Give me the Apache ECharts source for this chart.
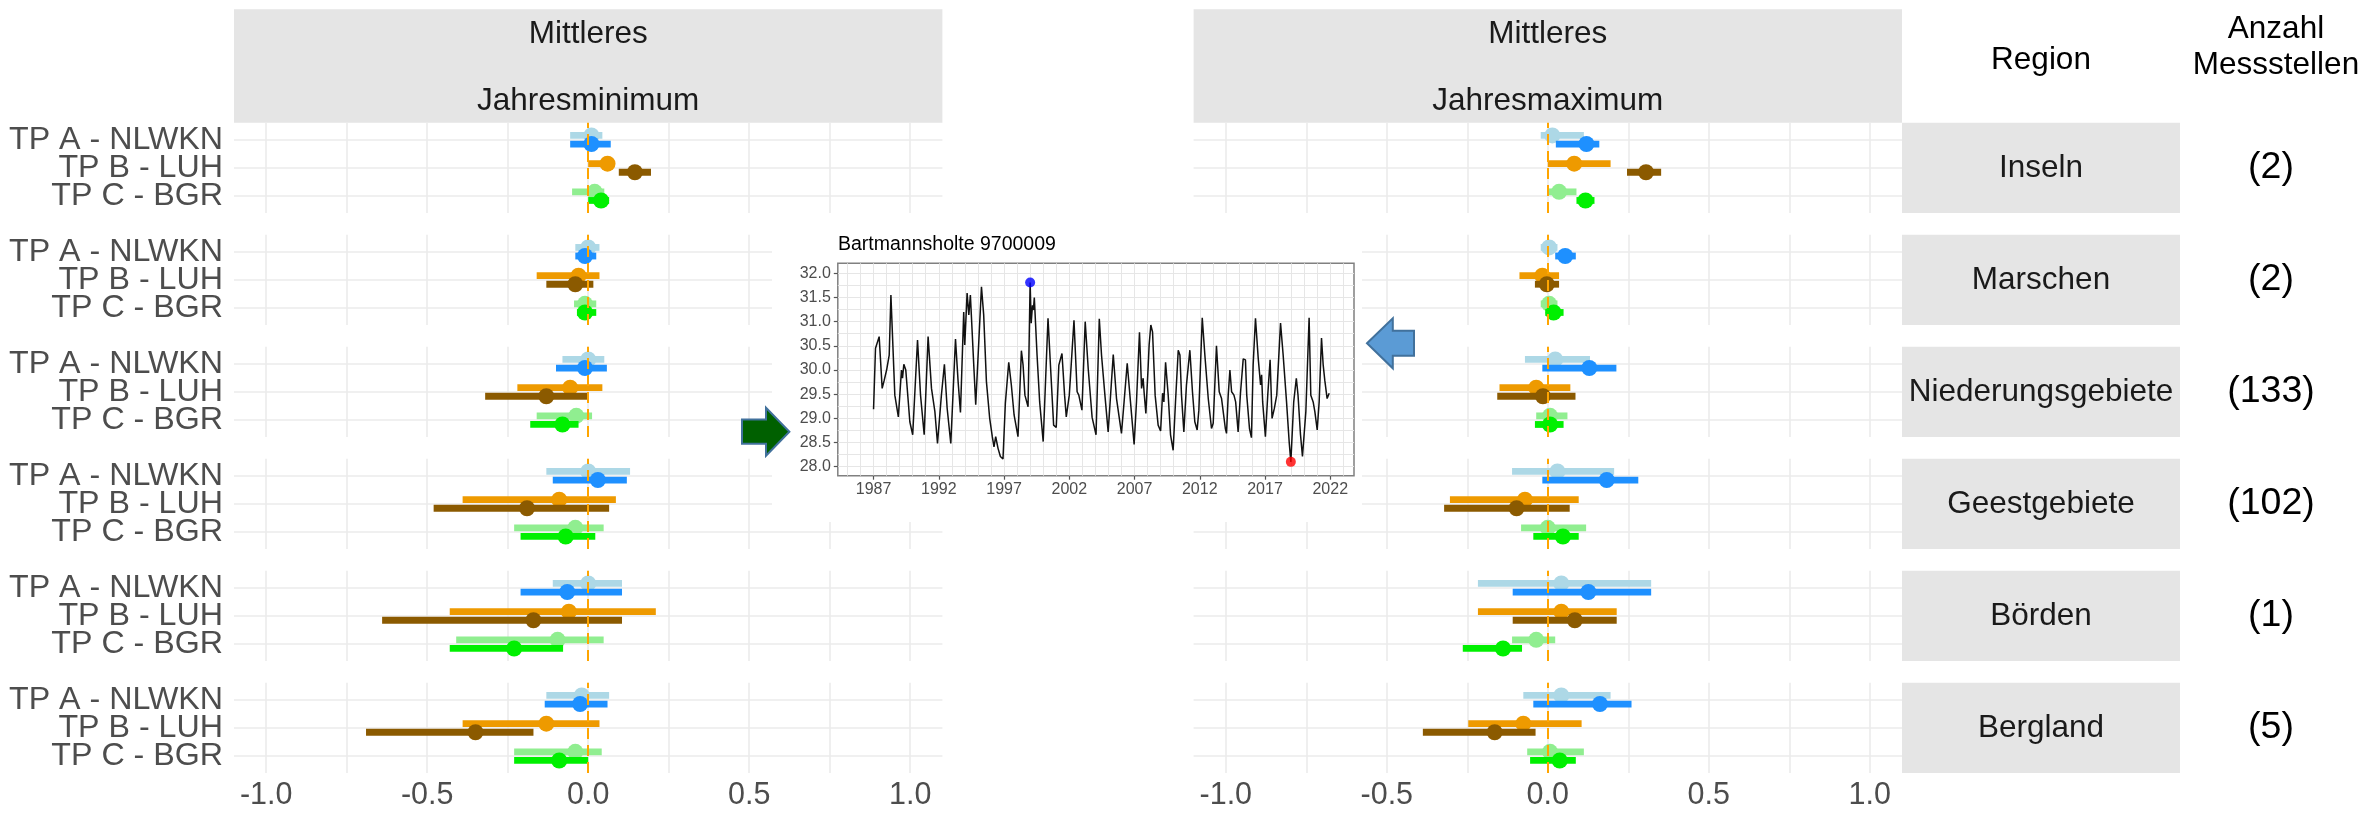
<!DOCTYPE html>
<html>
<head>
<meta charset="utf-8">
<script src="https://cdn.jsdelivr.net/npm/echarts@6/dist/echarts.min.js"></script>
<style>html,body{margin:0;padding:0;background:#fff}#c{width:2363px;height:813px}</style>
</head>
<body>
<div id="c"></div>
<script>
// ---------------- data ----------------
const regions = ['Inseln', 'Marschen', 'Niederungsgebiete', 'Geestgebiete', 'Börden', 'Bergland'];
const counts = ['(2)', '(2)', '(133)', '(102)', '(1)', '(5)'];
const tpLabels = ['TP A - NLWKN', 'TP B - LUH', 'TP C - BGR'];
const measures = ['Mittleres\n\nJahresminimum', 'Mittleres\n\nJahresmaximum'];
const xTickValues = [-1.0, -0.5, 0.0, 0.5, 1.0];
const xGridValues = [-1.0, -0.75, -0.5, -0.25, 0.0, 0.25, 0.5, 0.75, 1.0];
const yCatValues = [1, 2, 3];
const zeroLine = 0;

// Jahresminimum, light variant (rows = regions, cols = TP A, TP B, TP C)
const minLightEst = [[0.01, 0.06, 0.02], [0.00, -0.03, -0.01], [0.00, -0.056, -0.037], [0.00, -0.09, -0.04], [0.00, -0.06, -0.095], [-0.02, -0.13, -0.04]];
const minLightLo  = [[-0.056, 0.0, -0.05], [-0.04, -0.16, -0.044], [-0.08, -0.22, -0.16], [-0.13, -0.39, -0.23], [-0.11, -0.43, -0.41], [-0.13, -0.39, -0.23]];
const minLightHi  = [[0.044, 0.08, 0.05], [0.035, 0.035, 0.025], [0.05, 0.044, 0.012], [0.13, 0.086, 0.048], [0.105, 0.21, 0.048], [0.065, 0.035, 0.042]];
// Jahresminimum, dark variant
const minDarkEst = [[0.01, 0.145, 0.04], [-0.01, -0.04, -0.01], [-0.01, -0.13, -0.08], [0.03, -0.19, -0.07], [-0.065, -0.17, -0.23], [-0.025, -0.35, -0.09]];
const minDarkLo  = [[-0.056, 0.095, 0.0], [-0.04, -0.13, -0.035], [-0.10, -0.32, -0.18], [-0.11, -0.48, -0.21], [-0.21, -0.64, -0.43], [-0.135, -0.69, -0.23]];
const minDarkHi  = [[0.07, 0.195, 0.065], [0.025, 0.016, 0.025], [0.058, -0.003, -0.03], [0.12, 0.065, 0.022], [0.105, 0.105, -0.078], [0.06, -0.17, 0.0]];
// Jahresmaximum, light variant
const maxLightEst = [[0.014, 0.082, 0.035], [0.004, -0.017, 0.004], [0.023, -0.036, 0.007], [0.03, -0.071, 0.0], [0.042, 0.042, -0.036], [0.042, -0.076, 0.007]];
const maxLightLo  = [[-0.022, 0.0, 0.0], [-0.022, -0.088, -0.022], [-0.071, -0.15, -0.036], [-0.111, -0.304, -0.083], [-0.217, -0.217, -0.111], [-0.076, -0.247, -0.064]];
const maxLightHi  = [[0.112, 0.195, 0.089], [0.03, 0.035, 0.03], [0.131, 0.07, 0.061], [0.206, 0.096, 0.119], [0.321, 0.214, 0.023], [0.195, 0.105, 0.112]];
// Jahresmaximum, dark variant
const maxDarkEst = [[0.12, 0.305, 0.117], [0.054, -0.003, 0.018], [0.129, -0.015, 0.007], [0.183, -0.097, 0.047], [0.126, 0.084, -0.139], [0.162, -0.165, 0.037]];
const maxDarkLo  = [[0.025, 0.246, 0.089], [0.023, -0.04, -0.008], [-0.017, -0.157, -0.04], [-0.017, -0.322, -0.045], [-0.109, -0.109, -0.264], [-0.045, -0.388, -0.055]];
const maxDarkHi  = [[0.16, 0.352, 0.145], [0.087, 0.035, 0.049], [0.213, 0.086, 0.049], [0.281, 0.068, 0.096], [0.321, 0.214, -0.08], [0.26, -0.038, 0.087]];

// Inset: Bartmannsholte 9700009 groundwater level time series
const insetTitle = 'Bartmannsholte 9700009';
const tsYear = [1987.00,1987.15,1987.43,1987.66,1987.82,1988.00,1988.20,1988.33,1988.63,1988.90,1989.00,1989.14,1989.22,1989.32,1989.47,1989.78,1990.00,1990.37,1990.60,1990.88,1991.18,1991.44,1991.70,1991.90,1992.20,1992.43,1992.64,1992.92,1993.28,1993.48,1993.66,1993.91,1993.99,1994.17,1994.30,1994.42,1994.68,1994.83,1994.96,1995.27,1995.44,1995.65,1995.90,1996.10,1996.23,1996.36,1996.54,1996.72,1996.92,1997.10,1997.23,1997.36,1997.56,1997.77,1998.07,1998.33,1998.46,1998.60,1998.84,1999.00,1999.08,1999.18,1999.25,1999.32,1999.53,1999.73,2000.00,2000.37,2000.57,2000.80,2001.00,2001.20,2001.44,2001.64,2001.77,2002.00,2002.10,2002.36,2002.60,2002.73,2002.97,2003.22,2003.45,2003.75,2004.05,2004.30,2004.47,2004.73,2004.98,2005.37,2005.62,2006.00,2006.20,2006.44,2006.69,2006.97,2007.15,2007.38,2007.54,2007.66,2007.74,2007.87,2008.05,2008.12,2008.25,2008.38,2008.58,2008.81,2009.00,2009.15,2009.25,2009.38,2009.58,2009.76,2009.96,2010.14,2010.35,2010.48,2010.60,2010.78,2010.98,2011.24,2011.44,2011.62,2011.80,2011.93,2012.06,2012.19,2012.39,2012.65,2012.90,2013.03,2013.28,2013.49,2013.67,2013.96,2014.05,2014.18,2014.31,2014.44,2014.62,2014.75,2014.94,2015.12,2015.33,2015.50,2015.60,2015.81,2015.96,2016.09,2016.27,2016.48,2016.66,2016.74,2016.82,2017.03,2017.21,2017.39,2017.54,2017.72,2017.90,2018.19,2018.39,2018.65,2018.85,2018.98,2019.20,2019.40,2019.53,2019.72,2019.87,2020.13,2020.38,2020.51,2020.69,2020.82,2021.00,2021.15,2021.33,2021.46,2021.58,2021.76,2021.92];
const tsLevel = [29.19,30.45,30.69,29.62,29.79,30.00,30.31,31.55,29.48,29.03,28.99,30.00,29.83,30.12,30.00,28.93,28.66,30.62,29.48,28.66,30.69,29.62,29.14,28.48,29.48,30.12,29.21,28.48,30.64,29.76,29.12,31.20,30.52,31.59,31.14,31.55,30.10,29.28,29.26,31.72,31.14,29.76,29.00,28.62,28.41,28.62,28.38,28.21,28.16,29.31,29.34,30.16,29.69,29.07,28.62,30.40,30.10,29.48,29.24,31.81,30.97,31.34,31.24,31.50,30.31,29.34,28.52,31.07,30.03,28.86,28.81,30.10,30.34,29.48,29.03,29.48,29.90,31.03,29.55,29.48,29.17,31.00,30.03,29.02,28.66,31.06,30.31,29.48,28.72,30.32,29.41,28.69,29.34,30.14,29.34,28.46,29.34,30.78,29.62,29.83,29.52,29.10,30.10,30.52,30.93,30.79,29.48,28.86,28.74,29.52,29.34,30.16,29.48,28.66,28.34,29.34,30.41,30.31,29.48,28.72,29.69,30.41,29.55,28.93,28.76,29.17,29.19,31.08,30.31,29.41,28.79,28.90,30.50,29.55,29.41,28.79,28.69,29.48,30.00,29.55,29.48,29.34,28.72,29.52,30.23,30.21,29.48,28.79,28.60,30.10,31.07,30.24,29.69,29.90,29.34,28.62,29.48,30.21,29.00,29.21,29.48,30.97,30.31,29.34,28.52,28.10,29.34,29.83,29.48,28.66,28.21,29.14,31.08,29.48,29.34,29.14,28.76,29.34,30.66,30.10,29.79,29.41,29.52];
const tsMaxPoint = [1999.00, 31.81];
const tsMinPoint = [2018.98, 28.10];
const meanAnnualMax = 30.64;
const meanAnnualMin = 28.63;
const tsXTicks = [1987, 1992, 1997, 2002, 2007, 2012, 2017, 2022];
const tsYTicks = [28.0, 28.5, 29.0, 29.5, 30.0, 30.5, 31.0, 31.5, 32.0];
const tsGridYears = [1985,1986,1987,1988,1989,1990,1991,1992,1993,1994,1995,1996,1997,1998,1999,2000,2001,2002,2003,2004,2005,2006,2007,2008,2009,2010,2011,2012,2013,2014,2015,2016,2017,2018,2019,2020,2021,2022,2023];
const tsGridLevels = [28.0,28.25,28.5,28.75,29.0,29.25,29.5,29.75,30.0,30.25,30.5,30.75,31.0,31.25,31.5,31.75,32.0];

// ---------------- styling / layout ----------------
const FONT = "'Liberation Sans', Arial, Helvetica, sans-serif";
const lightColors = ['#ADD8E6', '#EE9A00', '#90EE90'];
const darkColors = ['#1E90FF', '#8B5A00', '#00F000'];
const colX = [234, 1193.6];
const colW = 708.4;
const rowTop0 = 122.8, rowStep = 112, rowH = 90.3;
const GRID_COL = '#EBEBEB';

const dataSets = [
  [[minLightEst, minLightLo, minLightHi], [minDarkEst, minDarkLo, minDarkHi]],
  [[maxLightEst, maxLightLo, maxLightHi], [maxDarkEst, maxDarkLo, maxDarkHi]]
];

function makeRender(variant) {
  const off = variant === 0 ? -4.3 : 4.3;
  const cols = variant === 0 ? lightColors : darkColors;
  return function (params, api) {
    const y = api.value(3);
    const pLo = api.coord([api.value(1), y]);
    const pHi = api.coord([api.value(2), y]);
    const pE = api.coord([api.value(0), y]);
    const col = cols[api.value(4)];
    const cy = pE[1] + off;
    return {
      type: 'group',
      children: [
        { type: 'rect', shape: { x: pLo[0], y: cy - 3.4, width: Math.max(pHi[0] - pLo[0], 0), height: 6.8 }, style: { fill: col } },
        { type: 'circle', shape: { cx: pE[0], cy: cy, r: 8 }, style: { fill: col } }
      ]
    };
  };
}

function labelAxis(gi, values) {
  return {
    gridIndex: gi, type: 'value', position: 'left', offset: 0, min: 0.4, max: 3.6,
    axisLine: { show: false }, axisTick: { show: false, customValues: values }, splitLine: { show: false },
    axisLabel: {
      customValues: values, showMinLabel: true, showMaxLabel: true, hideOverlap: false,
      formatter: v => tpLabels[3 - Math.round(v)],
      fontSize: 32.2, color: '#4D4D4D', fontFamily: FONT, margin: 11
    }
  };
}

const grids = [], xAxes = [], yAxes = [], series = [];
for (let r = 0; r < regions.length; r++) {
  for (let c = 0; c < 2; c++) {
    const gi = grids.length;
    grids.push({ left: colX[c], top: rowTop0 + r * rowStep, width: colW, height: rowH, containLabel: false, outerBoundsMode: 'none' });
    const xi = xAxes.length;
    xAxes.push({
      gridIndex: gi, type: 'value', min: -1.1, max: 1.1,
      axisLine: { show: false },
      axisTick: { show: false, customValues: xGridValues },
      splitLine: { show: true, lineStyle: { color: GRID_COL, width: 1.6 } },
      axisLabel: {
        show: r === regions.length - 1, customValues: xTickValues,
        showMinLabel: true, showMaxLabel: true, hideOverlap: false,
        formatter: v => Number(v).toFixed(1),
        fontSize: 30.5, color: '#4D4D4D', fontFamily: FONT, margin: 7
      }
    });
    const yi = yAxes.length;
    yAxes.push({
      gridIndex: gi, type: 'value', min: 0.4, max: 3.6,
      axisLine: { show: false },
      axisTick: { show: false, customValues: yCatValues },
      splitLine: { show: true, lineStyle: { color: GRID_COL, width: 1.6 } },
      axisLabel: { show: false }
    });
    if (c === 0) {
      // TP names: outer two and middle one on separate (coincident) label axes so none is hidden
      yAxes.push(labelAxis(gi, [yCatValues[0], yCatValues[2]]));
      yAxes.push(labelAxis(gi, [yCatValues[1]]));
    }
    for (let v = 0; v < 2; v++) {
      const [est, lo, hi] = dataSets[c][v];
      const s = {
        type: 'custom', name: (c === 0 ? 'min' : 'max') + '-' + regions[r] + '-' + v,
        xAxisIndex: xi, yAxisIndex: yi, z: 3 + v, silent: true,
        encode: { x: [0, 1, 2], y: 3 },
        renderItem: makeRender(v),
        data: tpLabels.map((_, t) => [est[r][t], lo[r][t], hi[r][t], 3 - t, t])
      };
      if (v === 0) {
        s.markLine = {
          silent: true, symbol: ['none', 'none'], label: { show: false },
          lineStyle: { color: '#FFA500', type: [11, 6], width: 2 },
          data: [{ xAxis: zeroLine }], animation: false
        };
      }
      series.push(s);
    }
  }
}

// ---- inset grid ----
const IG = grids.length;
grids.push({ left: 837.8, top: 263.3, width: 516.2, height: 212.4, show: true, backgroundColor: '#ffffff', borderColor: '#808080', borderWidth: 1.5, z: 60, containLabel: false, outerBoundsMode: 'none' });
const insetXMin = 1984.26, insetXMax = 2023.82, insetYMin = 27.814, insetYMax = 32.207;
const IX = xAxes.length;
xAxes.push({
  gridIndex: IG, type: 'value', min: insetXMin, max: insetXMax, z: 61,
  axisLine: { show: false },
  axisTick: { show: true, customValues: tsXTicks, length: 4, lineStyle: { color: '#555', width: 1.2 } },
  splitLine: { show: false },
  axisLabel: { customValues: tsXTicks, showMinLabel: true, showMaxLabel: true, formatter: v => String(Math.round(v)), fontSize: 16, color: '#4D4D4D', fontFamily: FONT, margin: 6 }
});
xAxes.push({
  gridIndex: IG, type: 'value', position: 'top', min: insetXMin, max: insetXMax, z: 61,
  axisLine: { show: false },
  axisTick: { show: false, customValues: tsGridYears },
  axisLabel: { show: false },
  splitLine: { show: true, lineStyle: { color: '#E6E6E6', width: 1 } }
});
const IY = yAxes.length;
yAxes.push({
  gridIndex: IG, type: 'value', min: insetYMin, max: insetYMax, z: 61,
  axisLine: { show: false },
  axisTick: { show: true, customValues: tsYTicks, length: 4, lineStyle: { color: '#555', width: 1.2 } },
  splitLine: { show: false },
  axisLabel: { customValues: tsYTicks, showMinLabel: true, showMaxLabel: true, formatter: v => Number(v).toFixed(1), fontSize: 16, color: '#4D4D4D', fontFamily: FONT, margin: 7 }
});
yAxes.push({
  gridIndex: IG, type: 'value', position: 'right', min: insetYMin, max: insetYMax, z: 61,
  axisLine: { show: false },
  axisTick: { show: false, customValues: tsGridLevels },
  axisLabel: { show: false },
  splitLine: { show: true, lineStyle: { color: '#E6E6E6', width: 1 } }
});
series.push({
  type: 'line', name: insetTitle, xAxisIndex: IX, yAxisIndex: IY, z: 70, silent: true,
  showSymbol: false, symbol: 'none',
  lineStyle: { color: '#111', width: 1.5 },
  data: tsYear.map((y, i) => [y, tsLevel[i]]),
  markLine: {
    silent: true, symbol: ['none', 'none'], label: { show: false }, animation: false,
    data: [
      { yAxis: meanAnnualMax, lineStyle: { color: 'rgba(0,0,255,0.75)', width: 1.8, type: 'solid' } },
      { yAxis: meanAnnualMin, lineStyle: { color: 'rgba(255,0,0,0.75)', width: 1.8, type: 'solid' } }
    ]
  }
});
series.push({
  type: 'scatter', xAxisIndex: IX, yAxisIndex: IY, z: 72, silent: true, symbolSize: 10,
  data: [
    { value: tsMaxPoint, itemStyle: { color: '#0000FF' } },
    { value: tsMinPoint, itemStyle: { color: '#FF0000' } }
  ]
});

// ---- graphic elements ----
function txt(x, y, text, size, fill, extra) {
  return Object.assign({
    type: 'text', x: x, y: y, silent: true,
    style: { text: text, fontSize: size, fontFamily: FONT, fill: fill, align: 'center', verticalAlign: 'middle', textAlign: 'center', textVerticalAlign: 'middle' }
  }, extra || {});
}
const graphics = [];
for (let c = 0; c < 2; c++) {
  graphics.push({ type: 'rect', silent: true, shape: { x: colX[c], y: 9.3, width: colW, height: rowTop0 - 9.3 }, style: { fill: '#E5E5E5' } });
  const t = txt(colX[c] + colW / 2, 67.5, measures[c], 31.5, '#1A1A1A');
  t.style.lineHeight = 33.5;
  graphics.push(t);
}
const stripX = 1902, stripW = 278;
for (let r = 0; r < regions.length; r++) {
  const top = rowTop0 + r * rowStep;
  graphics.push({ type: 'rect', silent: true, shape: { x: stripX, y: top, width: stripW, height: rowH }, style: { fill: '#E5E5E5' } });
  graphics.push(txt(stripX + stripW / 2, top + rowH / 2, regions[r], 31.5, '#1A1A1A'));
  graphics.push(txt(2271, top + rowH / 2, counts[r], 37.5, '#000'));
}
graphics.push(txt(2041, 60, 'Region', 31.5, '#000'));
const hdr = txt(2276, 47, 'Anzahl\nMessstellen', 31.5, '#000');
hdr.style.lineHeight = 36;
graphics.push(hdr);
// inset backdrop and title
graphics.push({ type: 'rect', silent: true, z: 50, shape: { x: 772, y: 228, width: 590, height: 294 }, style: { fill: '#ffffff' } });
graphics.push({ type: 'text', x: 838, y: 245, z: 70, silent: true, style: { text: insetTitle, fontSize: 19.5, fontFamily: FONT, fill: '#000', align: 'left', verticalAlign: 'middle', textAlign: 'left', textVerticalAlign: 'middle' } });
// arrows
graphics.push({ type: 'polygon', silent: true, z: 80, shape: { points: [[742, 419.6], [766, 419.6], [766, 407.7], [789.4, 431.7], [766, 455.7], [766, 443.8], [742, 443.8]] }, style: { fill: '#006000', stroke: '#41719C', lineWidth: 2 } });
graphics.push({ type: 'polygon', silent: true, z: 80, shape: { points: [[1367, 343.3], [1392.8, 318.3], [1392.8, 330.8], [1414, 330.8], [1414, 355.8], [1392.8, 355.8], [1392.8, 368.3]] }, style: { fill: '#5B9BD5', stroke: '#41719C', lineWidth: 2 } });

const chart = echarts.init(document.getElementById('c'), null, { renderer: 'canvas' });
chart.setOption({
  animation: false,
  backgroundColor: '#ffffff',
  textStyle: { fontFamily: FONT },
  grid: grids,
  xAxis: xAxes,
  yAxis: yAxes,
  series: series,
  graphic: { elements: graphics }
});
</script>
</body>
</html>
